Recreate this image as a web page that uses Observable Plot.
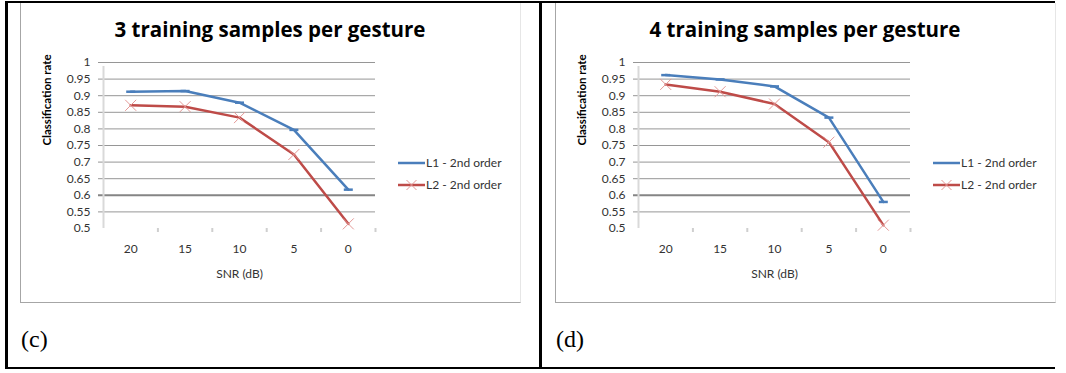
<!DOCTYPE html>
<html>
<head>
<meta charset="utf-8">
<script src="https://cdn.jsdelivr.net/npm/d3@7"></script>
<script src="https://cdn.jsdelivr.net/npm/@observablehq/plot@0.6"></script>
<style>
  html, body { margin: 0; padding: 0; background: #fff; }
  #page { position: relative; width: 1066px; height: 373px; overflow: hidden; font-family: Lato, "Open Sans", sans-serif; }
  .abs { position: absolute; }
  .black { background: #000; }
  .box { border-left: 1px solid #a6a6a6; border-right: 1px solid #e6e6e6; border-bottom: 1px solid #a6a6a6; box-sizing: border-box; }
  .title { font-family: "Open Sans", Lato, sans-serif; font-weight: bold; font-size: 20.5px; color: #000; white-space: nowrap; transform: translateX(-50%); line-height: 1; }
  .plabel { font-family: "Liberation Serif", "DejaVu Serif", serif; font-size: 24px; color: #000; line-height: 1; }
</style>
</head>
<body>
<div id="page"></div>
<script>
// ---- data ----
const snr = [20, 15, 10, 5, 0];
const seriesNames = ["L1 - 2nd order", "L2 - 2nd order"];
const titles = ["3 training samples per gesture", "4 training samples per gesture"];
const panelLabels = ["(c)", "(d)"];
const c_L1 = [0.912, 0.914, 0.879, 0.797, 0.617];
const c_L2 = [0.871, 0.867, 0.834, 0.723, 0.514];
const d_L1 = [0.962, 0.949, 0.928, 0.834, 0.580];
const d_L2 = [0.934, 0.912, 0.875, 0.760, 0.510];
const yTicks = [0.5, 0.55, 0.6, 0.65, 0.7, 0.75, 0.8, 0.85, 0.9, 0.95, 1];
const xTitle = "SNR (dB)";
const yTitle = "Classification rate";

const BLUE = "#4a7ebb", RED = "#be4b48", REDMARK = "#e49896", TXT = "#333333";
const FONT = "Lato, 'Open Sans', sans-serif";
const dashSymbol = { draw(ctx, size) { const r = Math.sqrt(size / Math.PI); ctx.moveTo(-r, 0); ctx.lineTo(r, 0); } };
const xSymbol = { draw(ctx, size) { const r = Math.sqrt(size / Math.PI); ctx.moveTo(-r, -r); ctx.lineTo(r, r); ctx.moveTo(r, -r); ctx.lineTo(-r, r); } };

// category boundaries (Excel-style category axis)
const step = snr[0] - snr[1];
const bounds = [snr[0] + step / 2, ...snr.map(v => v - step / 2)];
const fmt = d => String(+d.toFixed(2));

function chart(l1, l2) {
  const A = snr.map((x, i) => ({x, y: l1[i]}));
  const B = snr.map((x, i) => ({x, y: l2[i]}));
  return Plot.plot({
    width: 500, height: 299,
    marginLeft: 82, marginRight: 146, marginTop: 59, marginBottom: 74,
    style: {fontFamily: FONT, fontSize: "12px", color: TXT, background: "transparent", overflow: "visible"},
    x: {domain: [bounds[0], bounds[bounds.length - 1]], axis: null},
    y: {domain: [0.5, 1], axis: null},
    marks: [
      Plot.ruleY(yTicks.filter(v => v > 0.5 && v !== 0.6), {stroke: "#969696", strokeWidth: 1, insetLeft: -5}),
      Plot.ruleY([0.6], {stroke: "#858585", strokeWidth: 2, insetLeft: -5}),
      Plot.ruleX(bounds.slice(1), {y1: 0.5, y2: 0.5, insetBottom: -4, stroke: "#cfcfcf", strokeWidth: 2}),
      Plot.ruleX([bounds[0]], {y1: 0.5, y2: 1, insetBottom: -4, stroke: "#d9d9d9", strokeWidth: 2}),
      Plot.text(yTicks, {x: bounds[0], y: d => d, text: fmt, textAnchor: "end", dx: -13, fill: TXT}),
      Plot.text(snr, {x: d => d, y: 0.5, dy: 21, text: d => String(d), fill: TXT}),
      Plot.text([xTitle], {frameAnchor: "bottom", dy: 49, fill: TXT}),
      Plot.text([yTitle], {frameAnchor: "left", dx: -56, rotate: -90, fontWeight: "bold", fontSize: 11.5, fill: "#000"}),
      Plot.line(A, {x: "x", y: "y", stroke: BLUE, strokeWidth: 2.5}),
      Plot.line(B, {x: "x", y: "y", stroke: RED, strokeWidth: 2.5}),
      Plot.dot(A, {x: "x", y: "y", symbol: dashSymbol, r: 4.5, fill: "none", stroke: BLUE, strokeWidth: 2.5}),
      Plot.dot(B, {x: "x", y: "y", symbol: xSymbol, r: 5.5, fill: "none", stroke: REDMARK, strokeWidth: 1})
    ]
  });
}

const page = d3.select("#page");
// outer frame
[[5, 1, 1050, 2], [5, 1, 3, 368], [5, 367, 1050, 2], [539, 1, 3, 368]].forEach(([l, t, w, h]) =>
  page.append("div").attr("class", "abs black").style("left", l + "px").style("top", t + "px").style("width", w + "px").style("height", h + "px"));

const panels = [
  {off: 0, l1: c_L1, l2: c_L2, title: titles[0], label: panelLabels[0]},
  {off: 535, l1: d_L1, l2: d_L2, title: titles[1], label: panelLabels[1]}
];
panels.forEach(p => {
  page.append("div").attr("class", "abs box").style("left", (20 + p.off) + "px").style("top", "3px").style("width", "501px").style("height", "300px");
  const holder = page.append("div").attr("class", "abs").style("left", (21 + p.off) + "px").style("top", "3px");
  holder.node().appendChild(chart(p.l1, p.l2));
  page.append("div").attr("class", "abs title").style("left", (270 + p.off) + "px").style("top", "19px").text(p.title);
  page.append("div").attr("class", "abs plabel").style("left", (21 + p.off) + "px").style("top", "327px").text(p.label);
  // legend
  const lg = page.append("svg").attr("class", "abs").style("left", (395 + p.off) + "px").style("top", "150px")
    .attr("width", 120).attr("height", 50).style("overflow", "visible");
  [[BLUE, 13, seriesNames[0], false], [RED, 35, seriesNames[1], true]].forEach(([c, y, name, mark]) => {
    lg.append("line").attr("x1", 3).attr("x2", 30).attr("y1", y).attr("y2", y).attr("stroke", c).attr("stroke-width", 2.5);
    if (mark) {
      lg.append("path").attr("d", `M${16.5-5},${y-5}L${16.5+5},${y+5}M${16.5+5},${y-5}L${16.5-5},${y+5}`).attr("stroke", REDMARK).attr("stroke-width", 1).attr("fill", "none");
    }
    lg.append("text").attr("x", 31).attr("y", y).attr("dy", "0.35em").attr("font-size", 12)
      .attr("font-family", FONT).attr("fill", TXT).text(name);
  });
});
</script>
</body>
</html>
